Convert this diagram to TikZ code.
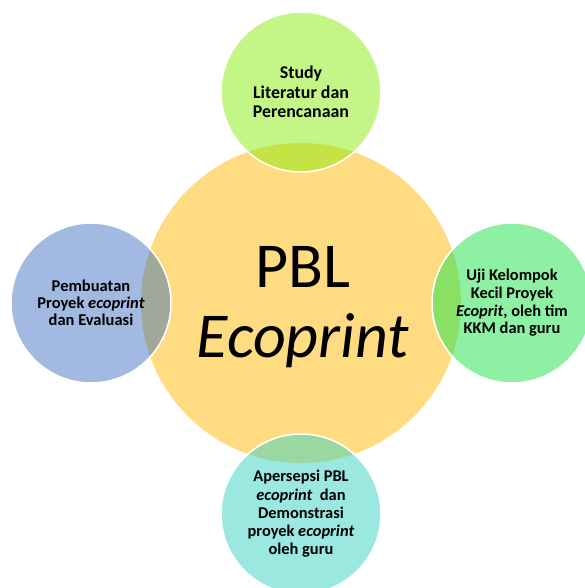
\documentclass[tikz,border=0pt]{standalone}
\usepackage{fontspec}
\setmainfont{Carlito}
\begin{document}
\begin{tikzpicture}[x=1pt,y=-1pt,
  hub/.style={circle,minimum size=320pt,inner sep=0pt,fill=cY},
  outer/.style={circle,minimum size=160pt,inner sep=0pt,draw=white,line width=1.5pt,align=center,font=\bfseries},
  big/.style={anchor=base,font=\fontsize{64}{70}\selectfont}]
\definecolor{cY}{HTML}{FFDC82}
\definecolor{cT}{HTML}{C4F587}
\definecolor{cTo}{HTML}{C6E346}
\definecolor{cL}{HTML}{A2B9E1}
\definecolor{cLo}{HTML}{A0A89C}
\definecolor{cR}{HTML}{8EF0A2}
\definecolor{cRo}{HTML}{8AE064}
\definecolor{cB}{HTML}{9AE8E0}
\definecolor{cBo}{HTML}{9AD8A2}
\useasboundingbox (0,0) rectangle (584,588);
\fill[white] (0,0) rectangle (584,588);
\coordinate (C) at (301,303);
\coordinate (T) at (301,92);
\coordinate (B) at (301,514);
\coordinate (L) at (91,303);
\coordinate (R) at (512,303);
\node[hub] (hub) at (C) {};
\fill[cT] (T) circle[radius=80pt];
\fill[cL] (L) circle[radius=80pt];
\fill[cR] (R) circle[radius=80pt];
\fill[cB] (B) circle[radius=80pt];
\begin{scope}
  \clip (C) circle[radius=160pt];
  \fill[cTo] (T) circle[radius=80pt];
  \fill[cLo] (L) circle[radius=80pt];
  \fill[cRo] (R) circle[radius=80pt];
  \fill[cBo] (B) circle[radius=80pt];
\end{scope}
\node[big] (pbl) at (303,287) {PBL};
\node[big] (eco) at (303,357) {\itshape Ecoprint};
\node[outer,font=\bfseries\fontsize{17.9}{19.5}\selectfont] (top) at (T)
  {Study\\Literatur dan\\Perencanaan};
\node[outer,font=\bfseries\fontsize{16.5}{16.8}\selectfont] (left) at (L)
  {Pembuatan\\Proyek \textit{ecoprint}\\dan Evaluasi};
\node[outer,font=\bfseries\fontsize{16.4}{17.7}\selectfont] (right) at (R)
  {Uji Kelompok\\Kecil Proyek\\\textit{Ecoprit}, oleh tim\\KKM dan guru};
\node[outer,font=\bfseries\fontsize{16.4}{18.3}\selectfont] (bottom) at (B)
  {Apersepsi PBL\\\textit{ecoprint}\ \ dan\\Demonstrasi\\proyek \textit{ecoprint}\\oleh guru};
\end{tikzpicture}
\end{document}
